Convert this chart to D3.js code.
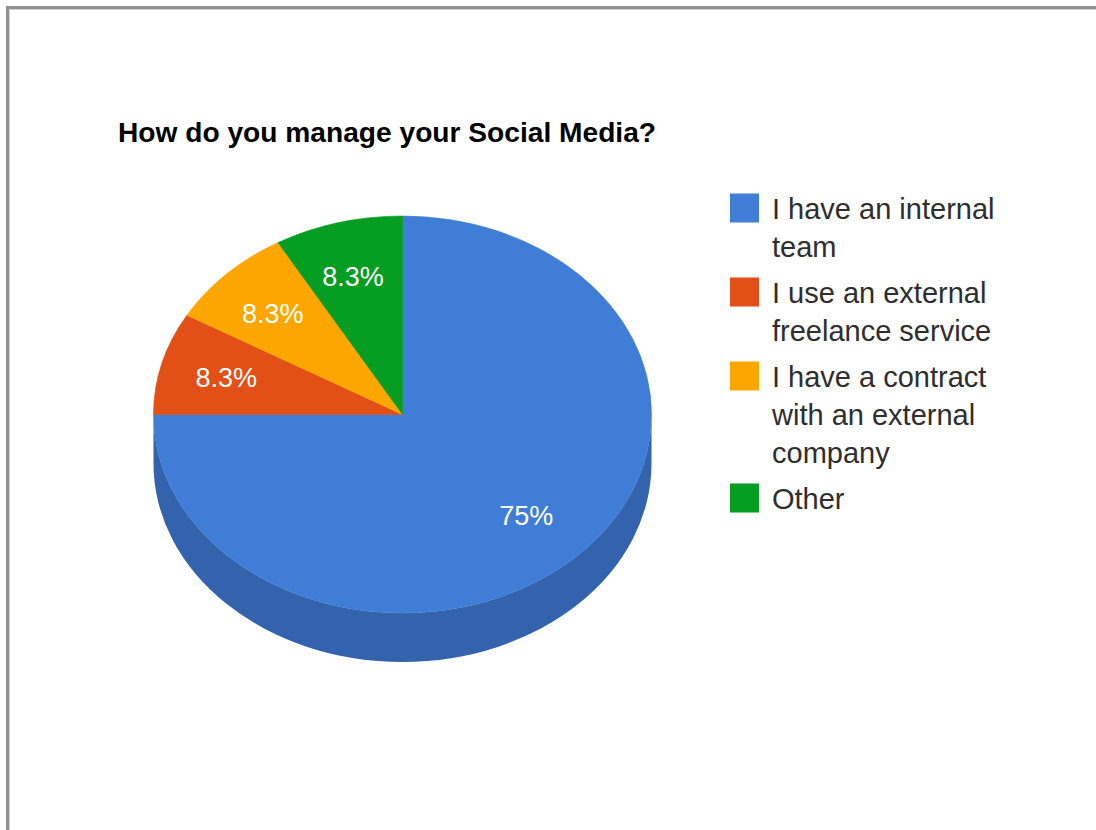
<!DOCTYPE html>
<html>
<head>
<meta charset="utf-8">
<script src="https://cdn.jsdelivr.net/npm/d3@7"></script>
<style>
  html, body { margin: 0; padding: 0; background: #ffffff; }
  svg { display: block; }
</style>
</head>
<body>
<svg id="chart" width="1096" height="830"></svg>
<script>
// Survey answers and their shares
const categories = [
  "I have an internal team",
  "I use an external freelance service",
  "I have a contract with an external company",
  "Other"
];
const counts = [9, 1, 1, 1];
const percentLabels = ["75%", "8.3%", "8.3%", "8.3%"];
const topColors = ["#407dd7", "#e24f17", "#fea600", "#069e22"];
const sideColors = ["#3363ac", "#a83a12", "#c07d00", "#05761a"];
const chartTitle = "How do you manage your Social Media?";

const svg = d3.select("#chart");
const W = 1096, H = 830;

// Frame along the top and left edges
svg.append("rect").attr("x", 0).attr("y", 0).attr("width", W).attr("height", H).attr("fill", "#fff");
svg.append("path").attr("d", `M7.5,${H} V7.5 H${W}`).attr("fill", "none").attr("stroke", "#929292").attr("stroke-width", 3);
svg.append("path").attr("d", `M9.5,${H} V9.5 H${W}`).attr("fill", "none").attr("stroke", "#cfcfcf").attr("stroke-width", 1);

// Title
svg.append("text")
  .attr("x", 118).attr("y", 142)
  .attr("font-family", "Liberation Sans, Arial, sans-serif")
  .attr("font-weight", "bold")
  .attr("font-size", 27.5)
  .attr("textLength", 538)
  .attr("lengthAdjust", "spacingAndGlyphs")
  .attr("fill", "#000")
  .text(chartTitle);

// Tilted pie geometry
const cx = 402.5, cy = 414.5, rx = 249, ry = 198.5, depth = 49;
const colorTop = d3.scaleOrdinal().domain(categories).range(topColors);
const colorSide = d3.scaleOrdinal().domain(categories).range(sideColors);

const pie = d3.pie().sort(null).value(d => d.value);
const arcs = pie(categories.map((c, i) => ({ name: c, value: counts[i], label: percentLabels[i] })));

const px = (a, dy = 0) => [cx + rx * Math.sin(a), cy + dy - ry * Math.cos(a)];

function topPath(a0, a1) {
  const p0 = px(a0), p1 = px(a1);
  const large = (a1 - a0) > Math.PI ? 1 : 0;
  return `M${cx},${cy} L${p0[0]},${p0[1]} A${rx},${ry} 0 ${large} 1 ${p1[0]},${p1[1]} Z`;
}

// Side wall of a slice, limited to the front half of the ellipse
function sidePath(a0, a1) {
  const s = Math.max(a0, Math.PI / 2), e = Math.min(a1, 3 * Math.PI / 2);
  if (e <= s) return null;
  const p0 = px(s), p1 = px(e), q1 = px(e, depth), q0 = px(s, depth);
  return `M${p0[0]},${p0[1]} A${rx},${ry} 0 0 1 ${p1[0]},${p1[1]} L${q1[0]},${q1[1]} A${rx},${ry} 0 0 0 ${q0[0]},${q0[1]} Z`;
}

const g = svg.append("g");

// Side walls first
arcs.forEach(d => {
  const sd = sidePath(d.startAngle - 0.004, d.endAngle);
  if (sd) g.append("path").attr("d", sd).attr("fill", colorSide(d.data.name));
});

// Top faces
arcs.forEach(d => {
  g.append("path")
    .attr("d", topPath(d.startAngle, d.endAngle))
    .attr("fill", colorTop(d.data.name))
    .attr("stroke", colorTop(d.data.name))
    .attr("stroke-width", 0.6);
});

// Percentage labels inside the slices
const labelFrac = 0.72;
arcs.forEach(d => {
  const mid = (d.startAngle + d.endAngle) / 2;
  const x = cx + labelFrac * rx * Math.sin(mid);
  const y = cy - labelFrac * ry * Math.cos(mid);
  g.append("text")
    .attr("x", x - 3).attr("y", y + 9.5)
    .attr("text-anchor", "middle")
    .attr("font-family", "Liberation Sans, Arial, sans-serif")
    .attr("font-size", 27)
    .attr("fill", "#fff")
    .text(d.data.label);
});

// Legend with wrapped entries
const legend = svg.append("g");
const legX = 730, textX = 772, lineH = 38, itemGap = 8, maxW = 236, fontSize = 29;
let lineY = 208; // vertical centre of the first line
categories.forEach((c, i) => {
  const t = legend.append("text")
    .attr("font-family", "Liberation Sans, Arial, sans-serif")
    .attr("font-size", fontSize)
    .attr("fill", "#2e2e2e");
  const words = c.split(" ");
  const lines = [];
  let cur = [];
  words.forEach(w => {
    const trial = cur.concat(w).join(" ");
    t.text(trial);
    if (t.node().getComputedTextLength() > maxW && cur.length) {
      lines.push(cur.join(" "));
      cur = [w];
    } else {
      cur.push(w);
    }
  });
  lines.push(cur.join(" "));
  t.text(null);

  legend.append("rect")
    .attr("x", legX).attr("y", lineY - 14.5)
    .attr("width", 29).attr("height", 29)
    .attr("fill", colorTop(c));

  lines.forEach((ln, k) => {
    t.append("tspan")
      .attr("x", textX)
      .attr("y", lineY + k * lineH + 10.5)
      .text(ln);
  });
  lineY += lines.length * lineH + itemGap;
});
</script>
</body>
</html>
